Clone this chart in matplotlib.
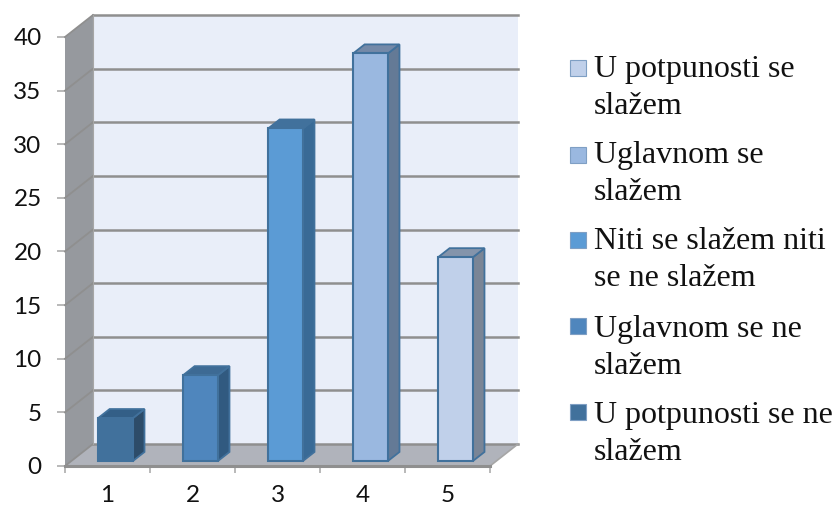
import matplotlib
matplotlib.use("Agg")
import matplotlib.pyplot as plt
from matplotlib.patches import Polygon, Rectangle

# Data
categories = ["1", "2", "3", "4", "5"]
values = [4, 8, 31, 38, 19]
y_ticks = [0, 5, 10, 15, 20, 25, 30, 35, 40]
legend_labels = [
    "U potpunosti se\nslažem",
    "Uglavnom se\nslažem",
    "Niti se slažem niti\nse ne slažem",
    "Uglavnom se ne\nslažem",
    "U potpunosti se ne\nslažem",
]

# Bar colours: front, top, side
front_colors = ["#41719c", "#4f86bd", "#5b9bd5", "#9ab8e0", "#c0d0ea"]
top_colors = ["#335f87", "#3d6a94", "#41719c", "#7489a8", "#8494ab"]
side_colors = ["#2d4c69", "#315a80", "#396a96", "#647a96", "#7a8596"]
legend_colors = ["#c0d0ea", "#9ab8e0", "#5b9bd5", "#4f86bd", "#41719c"]
edge_color = "#41719c"
grid_color = "#8f8f8f"

W, H = 834, 508
fig = plt.figure(figsize=(W / 100, H / 100), dpi=100)
ax = fig.add_axes([65 / W, (H - 466) / H, 425 / W, 429 / H])
ax.set_xlim(0, 5)
ax.set_ylim(0, 40)
ax.patch.set_visible(False)
for s in ax.spines.values():
    s.set_visible(False)

# 3D offsets in data units
wall_dx, wall_dy = 0.329, 2.05
bar_dx, bar_dy = 0.135, 0.84
bar_base = 0.47
bar_left = 0.39
bar_width = 0.41

# Walls and floor
ax.add_patch(Polygon([(wall_dx, wall_dy), (5 + wall_dx, wall_dy), (5 + wall_dx, 40 + wall_dy), (wall_dx, 40 + wall_dy)],
                     fc="#e9eef9", ec="none", clip_on=False, zorder=1))
ax.add_patch(Polygon([(0, 0), (wall_dx, wall_dy), (wall_dx, 40 + wall_dy), (0, 40)],
                     fc="#96999e", ec="none", clip_on=False, zorder=1))
ax.add_patch(Polygon([(0, 0), (5, 0), (5 + wall_dx, wall_dy), (wall_dx, wall_dy)],
                     fc="#b0b3bb", ec="none", clip_on=False, zorder=1))

# Gridlines on both walls
for t in y_ticks:
    ax.plot([wall_dx, 5 + wall_dx], [t + wall_dy, t + wall_dy], color=grid_color, lw=1.8, clip_on=False, zorder=2)
    ax.plot([0, wall_dx], [t, t + wall_dy], color=grid_color, lw=1.3, clip_on=False, zorder=2)
ax.plot([5, 5 + wall_dx], [0, wall_dy], color="#a6a6a6", lw=1.2, clip_on=False, zorder=2)
ax.plot([0, 5], [0, 0], color=grid_color, lw=2.2, clip_on=False, zorder=2)
ax.plot([wall_dx, wall_dx], [wall_dy, 40 + wall_dy], color="#a6a6a6", lw=0.8, clip_on=False, zorder=2)

# Bars
for i, v in enumerate(values):
    x0 = i + bar_left
    x1 = x0 + bar_width
    top = bar_base + v
    ax.add_patch(Polygon([(x1, bar_base), (x1 + bar_dx, bar_base + bar_dy), (x1 + bar_dx, top + bar_dy), (x1, top)],
                         fc=side_colors[i], ec=edge_color, lw=1.3, clip_on=False, zorder=3))
    ax.add_patch(Polygon([(x0, top), (x1, top), (x1 + bar_dx, top + bar_dy), (x0 + bar_dx, top + bar_dy)],
                         fc=top_colors[i], ec=edge_color, lw=1.3, clip_on=False, zorder=3))
    ax.bar(x0, v, width=bar_width, bottom=bar_base, align="edge", color=front_colors[i],
           edgecolor=edge_color, lw=1.5, clip_on=False, zorder=4)

# Axes ticks
ax.set_yticks(y_ticks)
ax.set_xticks(range(6))
ax.set_xticks([i + 0.5 for i in range(5)], minor=True)
ax.set_xticklabels([])
ax.set_xticklabels(categories, minor=True, fontsize=17.5, family="Lato", color="#111111")
ax.set_yticklabels([str(t) for t in y_ticks], fontsize=17.5, family="Lato", color="#111111")
ax.tick_params(axis="y", length=5.8, width=1.1, color="#a6a6a6", pad=11)
ax.tick_params(axis="x", which="major", length=5, width=1.1, color="#a6a6a6")
ax.tick_params(axis="x", which="minor", length=0, pad=13.5)

# Legend drawn by hand so each marker sits on the first text line
marker_tops = [60, 147, 232, 318, 404]
first_baselines = [77, 163, 249, 337, 423]
line_gap = 37
for color, label, m_top, base in zip(legend_colors, legend_labels, marker_tops, first_baselines):
    fig.add_artist(Rectangle((570 / W, (H - m_top - 16) / H), 16 / W, 16 / H, transform=fig.transFigure,
                             fc=color, ec="#7f9fc4", lw=0.8))
    for k, line in enumerate(label.split("\n")):
        fig.text(594 / W, (H - base - k * line_gap) / H, line, fontsize=23, family="Liberation Serif",
                 color="#111111", va="baseline", ha="left")

fig.savefig("out.png", dpi=100)
